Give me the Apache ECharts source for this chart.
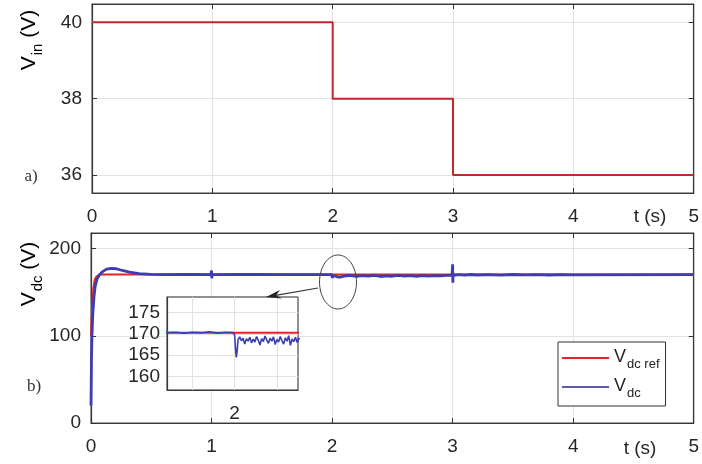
<!DOCTYPE html>
<html>
<head>
<meta charset="utf-8">
<script src="https://cdn.jsdelivr.net/npm/echarts@6/dist/echarts.min.js"></script>
<style>
  html, body { margin: 0; padding: 0; background: #fff; }
  #chart { width: 702px; height: 464px; }
</style>
</head>
<body>
<div id="chart"></div>
<script>
// a) input voltage, step changes
var vinTime = [0, 2, 2, 3, 3, 5];
var vinValue = [40, 40, 38, 38, 36, 36];

// b) dc link reference
var refTime = [0, 0.005, 0.01, 0.02, 0.03, 0.045, 0.07, 5];
var refValue = [100, 118, 135, 155, 164, 168, 170.3, 170.3];

// b) measured dc link voltage
var vdcTime = [0, 0.004, 0.008, 0.015, 0.025, 0.035, 0.05, 0.07, 0.1, 0.13, 0.17, 0.21, 0.26, 0.32, 0.4, 0.5, 0.6, 0.8,
  0.995, 1.0, 1.002, 1.005, 1.3, 1.6,
  1.92, 1.93, 1.94, 1.95, 1.96, 1.97, 1.98, 1.99, 1.998,
  2.000, 2.001, 2.002, 2.003, 2.004, 2.006, 2.008, 2.010, 2.012, 2.014, 2.016, 2.018, 2.020, 2.022, 2.024, 2.026,
  2.028, 2.030, 2.032, 2.034, 2.036, 2.038, 2.040, 2.042, 2.044, 2.046, 2.048, 2.050, 2.052, 2.054, 2.056, 2.058,
  2.060, 2.062, 2.064, 2.066, 2.068, 2.070, 2.072, 2.074, 2.076,
  2.1, 2.15, 2.2, 2.25, 2.3, 2.35, 2.4, 2.45, 2.5, 2.55, 2.6, 2.65, 2.7, 2.75, 2.8, 2.85, 2.9, 2.95, 2.995,
  3.0, 3.002, 3.004, 3.006, 3.05, 3.1, 3.15, 3.2, 3.3, 3.4, 3.5, 3.6, 3.7, 3.8, 3.9, 3.99, 4.0, 5.0];
var vdcValue = [20, 75, 100, 125, 145, 157, 165, 170, 174, 176.5, 177.5, 177, 175, 173, 171.5, 170.6, 170.3, 170.4,
  170.3, 175, 166, 170.3, 170.4, 170.3,
  170.3, 170.4, 170.2, 170.4, 170.3, 170.5, 170.2, 170.4, 170.3,
  169.8, 166.5, 164.5, 166, 168.6, 169.3, 168.4, 169.0, 167.6, 168.9, 168.3, 169.2, 167.9, 168.8, 168.1, 169.4,
  168.5, 167.4, 168.9, 168.2, 169.5, 168.6, 167.8, 169.0, 168.3, 169.3, 167.5, 168.7, 168.1, 169.4, 168.4, 167.6,
  169.1, 168.3, 169.6, 167.3, 168.8, 168.2, 169.2, 168.0, 168.9,
  168.5, 169.3, 168.2, 169.0, 168.4, 169.5, 168.1, 168.9, 168.4, 169.3, 168.6, 169.1, 168.2, 169.0, 168.5, 169.2, 168.7, 169.4, 169.5,
  182, 161, 172, 169.5, 170.2, 169.6, 170.4, 169.8, 170.3, 169.7, 170.4, 169.9, 170.3, 169.8, 170.2, 170.0, 170.3, 170.3];

// tick labels
var timeTicks = [0, 1, 2, 3, 4, 5];
var vinTicks = [36, 38, 40];
var vdcTicks = [0, 100, 200];
var insetTimeTicks = [1.95, 2, 2.05];
var insetVdcTicks = [160, 165, 170, 175];

function pairs(xs, ys) {
  var out = [];
  for (var i = 0; i < xs.length; i++) out.push([xs[i], ys[i]]);
  return out;
}

var FONT = 'Liberation Sans';
var labelColor = '#262626';
var frame = { show: true, onZero: false, lineStyle: { color: '#3a3a3a', width: 1.2 } };
var gridLine = { show: true, lineStyle: { color: '#e2e2e2', width: 1 } };
var inTick = { show: true, inside: true, length: 5, lineStyle: { color: '#333' } };

function bottomAxis(gridIndex, ticks, min, max, showLabels, extra) {
  var a = {
    type: 'value', gridIndex: gridIndex, min: min, max: max, position: 'bottom',
    axisLine: frame,
    axisTick: Object.assign({}, inTick, { customValues: ticks }),
    axisLabel: { show: showLabels, customValues: ticks, margin: 14, fontSize: 19, color: labelColor, fontFamily: FONT },
    splitLine: gridLine
  };
  return Object.assign(a, extra || {});
}
function topAxis(gridIndex, ticks, min, max) {
  return {
    type: 'value', gridIndex: gridIndex, min: min, max: max, position: 'top',
    axisLine: frame,
    axisTick: Object.assign({}, inTick, { customValues: ticks }),
    axisLabel: { show: false }, splitLine: { show: false }
  };
}
function leftAxis(gridIndex, ticks, min, max, margin, extra) {
  var a = {
    type: 'value', gridIndex: gridIndex, min: min, max: max, position: 'left',
    axisLine: frame,
    axisTick: Object.assign({}, inTick, { customValues: ticks }),
    axisLabel: { customValues: ticks, margin: margin, fontSize: 19, color: labelColor, fontFamily: FONT },
    splitLine: gridLine
  };
  return Object.assign(a, extra || {});
}
function rightAxis(gridIndex, ticks, min, max) {
  return {
    type: 'value', gridIndex: gridIndex, min: min, max: max, position: 'right',
    axisLine: frame,
    axisTick: Object.assign({}, inTick, { customValues: ticks }),
    axisLabel: { show: false }, splitLine: { show: false }
  };
}

var subRich = {
  v: { fontSize: 21, lineHeight: 22, verticalAlign: 'top', fontFamily: FONT, color: labelColor },
  s: { fontSize: 15, lineHeight: 15, padding: [11, 0, 0, 1], verticalAlign: 'top', fontFamily: FONT, color: labelColor }
};
var legRich = {
  v: { fontSize: 18, lineHeight: 20, verticalAlign: 'top', fontFamily: FONT, color: '#222' },
  s: { fontSize: 13, lineHeight: 13, padding: [10, 0, 0, 1], verticalAlign: 'top', fontFamily: FONT, color: '#222' }
};

var chart = echarts.init(document.getElementById('chart'));
var option = {
  animation: false,
  backgroundColor: '#fff',
  grid: [
    { left: 92, top: 4, width: 604, height: 189, show: true, borderColor: '#444', borderWidth: 1, backgroundColor: '#fff' },
    { left: 91, top: 233, width: 606, height: 190, show: true, borderColor: '#444', borderWidth: 1, backgroundColor: '#fff' },
    { left: 167, top: 297, width: 131, height: 93, show: true, borderColor: '#222', borderWidth: 1, backgroundColor: '#fff', z: 5 }
  ],
  xAxis: [
    bottomAxis(0, timeTicks, 0, 5, true),
    topAxis(0, timeTicks, 0, 5),
    bottomAxis(1, timeTicks, 0, 5, true),
    topAxis(1, timeTicks, 0, 5),
    bottomAxis(2, insetTimeTicks, 1.92, 2.075, true, {
      z: 6,
      axisTick: { show: false, customValues: insetTimeTicks },
      axisLabel: { customValues: [2], margin: 14, fontSize: 19, color: labelColor, fontFamily: FONT }
    })
  ],
  yAxis: [
    leftAxis(0, vinTicks, 35.53, 40.48, 10),
    rightAxis(0, vinTicks, 35.53, 40.48),
    leftAxis(1, vdcTicks, 0, 218, 10),
    rightAxis(1, vdcTicks, 0, 218),
    leftAxis(2, insetVdcTicks, 156.8, 178.7, 7, {
      z: 6,
      axisTick: { show: false, customValues: insetVdcTicks },
      axisLabel: { customValues: insetVdcTicks, margin: 7, fontSize: 19, color: labelColor, fontFamily: FONT }
    })
  ],
  legend: {
    orient: 'vertical', left: 558, top: 342,
    padding: [6, 6, 6, 4], itemGap: 6, itemWidth: 47, itemHeight: 2, icon: 'rect',
    borderColor: '#333', borderWidth: 1, backgroundColor: '#fff',
    data: ['Vdc ref', 'Vdc'],
    formatter: function (name) {
      return name === 'Vdc ref' ? '{v|V}{s|dc ref}' : '{v|V}{s|dc}';
    },
    textStyle: { rich: legRich }
  },
  series: [
    {
      name: 'Vin', type: 'line', xAxisIndex: 0, yAxisIndex: 0, showSymbol: false,
      lineStyle: { color: '#c3262b', width: 2 }, itemStyle: { color: '#c3262b' },
      data: pairs(vinTime, vinValue)
    },
    {
      name: 'Vdc ref', type: 'line', xAxisIndex: 2, yAxisIndex: 2, showSymbol: false,
      lineStyle: { color: '#e8222a', width: 2 }, itemStyle: { color: '#e8222a' },
      data: pairs(refTime, refValue)
    },
    {
      name: 'Vdc', type: 'line', xAxisIndex: 2, yAxisIndex: 2, showSymbol: false,
      lineStyle: { color: '#3b3db0', width: 2.8 }, itemStyle: { color: '#5b5ba8' },
      data: pairs(vdcTime, vdcValue)
    },
    {
      name: 'inset ref', type: 'line', xAxisIndex: 4, yAxisIndex: 4, showSymbol: false, z: 7,
      lineStyle: { color: '#e8222a', width: 2 },
      data: pairs(refTime, refValue)
    },
    {
      name: 'inset vdc', type: 'line', xAxisIndex: 4, yAxisIndex: 4, showSymbol: false, z: 8,
      lineStyle: { color: '#3b3db0', width: 1.6 },
      data: pairs(vdcTime, vdcValue)
    }
  ],
  graphic: [
    { type: 'text', x: 30, y: 40, rotation: Math.PI / 2,
      style: { text: '{v|V}{s|in}{v| (V)}', rich: subRich, align: 'center', verticalAlign: 'middle' } },
    { type: 'text', x: 30, y: 274, rotation: Math.PI / 2,
      style: { text: '{v|V}{s|dc}{v| (V)}', rich: subRich, align: 'center', verticalAlign: 'middle' } },
    { type: 'text', x: 31, y: 177,
      style: { text: 'a)', font: '17px "Liberation Serif"', fill: '#333', align: 'center', verticalAlign: 'middle' } },
    { type: 'text', x: 34, y: 387,
      style: { text: 'b)', font: '17px "Liberation Serif"', fill: '#333', align: 'center', verticalAlign: 'middle' } },
    { type: 'text', x: 650, y: 217,
      style: { text: 't (s)', font: '19px "Liberation Sans"', fill: labelColor, align: 'center', verticalAlign: 'middle' } },
    { type: 'text', x: 640, y: 449,
      style: { text: 't (s)', font: '19px "Liberation Sans"', fill: labelColor, align: 'center', verticalAlign: 'middle' } },
    { type: 'ellipse', z: 20, shape: { cx: 338, cy: 282, rx: 18.5, ry: 27 },
      style: { fill: null, stroke: '#444', lineWidth: 1 } },
    { type: 'line', z: 20, shape: { x1: 318, y1: 288, x2: 270, y2: 296.3 },
      style: { stroke: '#333', lineWidth: 1.2 } },
    { type: 'polygon', z: 20, shape: { points: [[266, 297], [280, 290], [276, 295.5], [282, 298.5]] },
      style: { fill: '#222' } }
  ]
};
chart.setOption(option);
</script>
</body>
</html>
